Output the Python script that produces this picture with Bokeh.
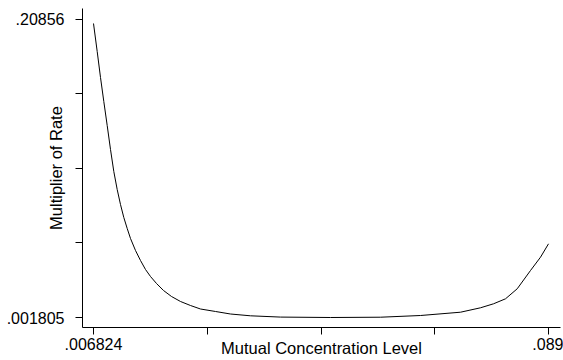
from bokeh.plotting import figure
from bokeh.models import Range1d, FixedTicker, LinearAxis
from bokeh.embed import file_html
from bokeh.resources import INLINE

# Data
conc = [0.006824, 0.007492, 0.008088, 0.008684, 0.009298, 0.009894, 0.010490,
        0.011104, 0.011700, 0.012296, 0.012911, 0.013507, 0.014410, 0.015313,
        0.016216, 0.017119, 0.018202, 0.019467, 0.020912, 0.022537, 0.024343,
        0.026149, 0.028858, 0.031568, 0.035180, 0.040598, 0.049629, 0.058659,
        0.065883, 0.073108, 0.076720, 0.079068, 0.081235, 0.083348, 0.085751,
        0.087557, 0.089]
mult = [0.20579, 0.18636, 0.16832, 0.15167, 0.13502, 0.11836, 0.10310,
        0.09061, 0.08021, 0.07119, 0.06355, 0.05662, 0.04829, 0.04135,
        0.03511, 0.03025, 0.02540, 0.02054, 0.01638, 0.01291, 0.01013,
        0.00770, 0.00597, 0.00423, 0.00298, 0.00209, 0.001805, 0.00201,
        0.00319, 0.00548, 0.00854, 0.01131, 0.01478, 0.02172, 0.03441,
        0.04364, 0.05294]

x_ticks = [0.006824, 0.027368, 0.047912, 0.068456, 0.089]
x_tick_labels = [".006824", "", "", "", ".089"]
y_ticks = [0.001805, 0.05349375, 0.1052825, 0.15707125, 0.20856]
y_tick_labels = [".001805", "", "", "", ".20856"]

x_title = "Mutual Concentration Level"
y_title = "Multiplier of Rate"

FONT = "Liberation Sans"

p = figure(width=563, height=360, output_backend="svg", toolbar_location=None,
           x_range=Range1d(0.004837, 0.091167), y_range=Range1d(-0.005133, 0.21619),
           min_border_left=82, min_border_right=3, min_border_top=8, min_border_bottom=33,
           y_axis_label=y_title)
p.outline_line_color = None
p.background_fill_color = "white"
p.border_fill_color = "white"
p.xgrid.grid_line_color = None
p.ygrid.grid_line_color = None

p.line(conc, mult, line_color="black", line_width=1.0)

for ax, ticks, labels in ((p.xaxis[0], x_ticks, x_tick_labels), (p.yaxis[0], y_ticks, y_tick_labels)):
    ax.ticker = FixedTicker(ticks=ticks, minor_ticks=[])
    ax.major_label_overrides = {t: l for t, l in zip(ticks, labels)}
    ax.major_tick_out = 7
    ax.major_tick_in = 0
    ax.minor_tick_out = 0
    ax.minor_tick_in = 0
    ax.axis_line_color = "black"
    ax.major_tick_line_color = "black"
    ax.major_label_text_font = FONT
    ax.major_label_text_font_size = "16px"
    ax.major_label_text_color = "black"
    ax.axis_label_text_font = FONT
    ax.axis_label_text_font_size = "16.5px"
    ax.axis_label_text_font_style = "normal"
    ax.axis_label_text_color = "black"

p.xaxis[0].major_label_standoff = 3
p.yaxis[0].major_label_standoff = 11
p.yaxis[0].axis_label_standoff = -61

# title-only axis, centred a little right of the frame centre as in the reference
title_axis = LinearAxis(axis_label=x_title, ticker=FixedTicker(ticks=[], minor_ticks=[]),
                        bounds=(0.01981, 0.07981), axis_line_color=None,
                        major_tick_out=0, major_tick_in=0, minor_tick_out=0, minor_tick_in=0,
                        major_label_standoff=0, axis_label_standoff=-14,
                        axis_label_text_font=FONT, axis_label_text_font_size="16.5px",
                        axis_label_text_font_style="normal", axis_label_text_color="black")
p.add_layout(title_axis, "below")

open("out.html", "w").write(file_html(p, INLINE))
